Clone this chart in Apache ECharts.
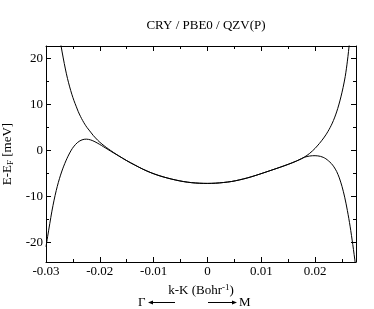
<!DOCTYPE html>
<html><head><meta charset="utf-8">
<script src="https://cdn.jsdelivr.net/npm/echarts@6/dist/echarts.min.js"></script>
<style>html,body{margin:0;padding:0;background:#fff}#c{width:374px;height:309px}</style>
</head><body><div id="c"></div>
<script>
var titleText = 'CRY / PBE0 / QZV(P)';
var xTickLabels = ['-0.03', '-0.02', '-0.01', '0', '0.01', '0.02'];
var yTickLabels = ['-20', '-10', '0', '10', '20'];

// shared central part of both bands (k in Bohr^-1, E in meV)
var midK = [-0.0150, -0.0135, -0.0120, -0.0105, -0.0090, -0.0075, -0.0060, -0.0045, -0.0030, -0.0015, 0.0000, 0.0015, 0.0030, 0.0045, 0.0060, 0.0075, 0.0090, 0.0105, 0.0120, 0.0135, 0.0150, 0.0165];
var midE = [-2.25, -3.2, -4.1, -4.87, -5.5, -6.01, -6.44, -6.79, -7.03, -7.16, -7.2, -7.15, -7.0, -6.78, -6.42, -5.98, -5.45, -4.87, -4.28, -3.68, -3.05, -2.35];

var upperLeftK = [-0.0276, -0.0272, -0.0268, -0.0264, -0.0260, -0.0256, -0.0252, -0.0248, -0.0244, -0.0240, -0.0236, -0.0232, -0.0228, -0.0224, -0.0220, -0.0216, -0.0212, -0.0208, -0.0204, -0.0200, -0.0196, -0.0192, -0.0188, -0.0184, -0.0180, -0.0175, -0.0170, -0.0165];
var upperLeftE = [25.7, 22.7, 20.1, 17.7, 15.6, 13.8, 12.2, 10.8, 9.6, 8.4, 7.4, 6.5, 5.7, 5.0, 4.4, 3.8, 3.2, 2.7, 2.2, 1.76, 1.36, 0.99, 0.64, 0.3, -0.03, -0.43, -0.82, -1.2];
var upperRightK = [0.0175, 0.0180, 0.0185, 0.0190, 0.0195, 0.0200, 0.0204, 0.0208, 0.0212, 0.0216, 0.0220, 0.0224, 0.0228, 0.0232, 0.0236, 0.0240, 0.0244, 0.0248, 0.0252, 0.0256, 0.0260, 0.0264, 0.0268];
var upperRightE = [-1.8, -1.47, -1.1, -0.65, -0.14, 0.43, 0.95, 1.49, 2.07, 2.69, 3.37, 4.13, 4.97, 5.93, 7.05, 8.35, 9.87, 11.63, 13.67, 16.07, 19.4, 23.6, 28.5];

var lowerLeftK = [-0.0300, -0.0297, -0.0293, -0.0289, -0.0285, -0.0281, -0.0277, -0.0273, -0.0269, -0.0265, -0.0261, -0.0257, -0.0253, -0.0249, -0.0245, -0.0241, -0.0237, -0.0233, -0.0229, -0.0225, -0.0221, -0.0217, -0.0213, -0.0209, -0.0205, -0.0201, -0.0197, -0.0193, -0.0189, -0.0185, -0.0180, -0.0175, -0.0170, -0.0165];
var lowerLeftE = [-21.0, -18.8, -15.96, -13.24, -10.84, -8.76, -6.96, -5.4, -4.04, -2.84, -1.76, -0.8, 0.04, 0.74, 1.3, 1.74, 2.06, 2.28, 2.4, 2.43, 2.38, 2.26, 2.08, 1.86, 1.61, 1.34, 1.06, 0.77, 0.48, 0.19, -0.17, -0.52, -0.86, -1.2];
var lowerRightK = [0.0175, 0.0180, 0.0185, 0.0190, 0.0195, 0.0200, 0.0205, 0.0210, 0.0215, 0.0220, 0.0225, 0.0230, 0.0235, 0.0240, 0.0245, 0.0250, 0.0255, 0.0260, 0.0265, 0.0270, 0.0275, 0.0278];
var lowerRightE = [-1.8, -1.52, -1.35, -1.24, -1.18, -1.17, -1.21, -1.32, -1.52, -1.84, -2.3, -2.85, -3.6, -4.6, -6.0, -7.85, -10.2, -13.1, -16.5, -20.5, -24.9, -27.8];

function pairs(a, b) { var r = []; for (var i = 0; i < a.length; i++) r.push([a[i], b[i]]); return r; }
var upperData = pairs(upperLeftK, upperLeftE).concat(pairs(midK, midE), pairs(upperRightK, upperRightE));
var lowerData = pairs(lowerLeftK, lowerLeftE).concat(pairs(midK, midE), pairs(lowerRightK, lowerRightE));

var FONT = 'Liberation Serif';
var X_MIN = -0.03, X_MAX = 0.0276, Y_MIN = -24.3, Y_MAX = 22.7;

function xAx(pos, interval, len, labels, line) {
  return {
    type: 'value', position: pos, min: X_MIN, max: X_MAX, interval: interval,
    axisLine: { show: line, onZero: false, lineStyle: { color: '#000', width: 1 } },
    axisTick: { show: true, inside: true, length: len, lineStyle: { color: '#000', width: 1 } },
    axisLabel: labels ? {
      show: true, margin: 3, color: '#000', fontFamily: FONT, fontSize: 13,
      showMaxLabel: false,
      formatter: function (v) {
        var r = Math.round(v * 100);
        if (Math.abs(v * 100 - r) > 1e-6) return '';
        return xTickLabels[r + 3] || '';
      }
    } : { show: false },
    splitLine: { show: false },
    name: labels ? 'k-K (Bohr{sup|-1})' : '',
    nameLocation: 'middle', nameGap: 20,
    nameTextStyle: { color: '#000', fontFamily: FONT, fontSize: 13,
      rich: { sup: { fontSize: 9, verticalAlign: 'top', padding: [0, 0, 6, 0], color: '#000', fontFamily: FONT } } }
  };
}
function yAx(pos, split, len, labels, line) {
  return {
    type: 'value', position: pos, min: Y_MIN, max: Y_MAX, splitNumber: split,
    axisLine: { show: line, onZero: false, lineStyle: { color: '#000', width: 1 } },
    axisTick: { show: true, inside: true, length: len, lineStyle: { color: '#000', width: 1 } },
    axisLabel: labels ? {
      show: true, margin: 3, color: '#000', fontFamily: FONT, fontSize: 13,
      showMinLabel: false, showMaxLabel: false,
      formatter: function (v) {
        var r = Math.round(v / 10);
        if (Math.abs(v / 10 - r) > 1e-6) return '';
        return yTickLabels[r + 2] || '';
      }
    } : { show: false },
    splitLine: { show: false },
    name: labels ? 'E-E{sub|F} [meV]' : '',
    nameLocation: 'middle', nameGap: 22,
    nameTextStyle: { color: '#000', fontFamily: FONT, fontSize: 13,
      rich: { sub: { fontSize: 9, verticalAlign: 'bottom', padding: [6, 0, 0, 0], color: '#000', fontFamily: FONT } } }
  };
}

var chart = echarts.init(document.getElementById('c'), null, { renderer: 'canvas' });
chart.setOption({
  animation: false,
  backgroundColor: '#fff',
  title: { text: titleText, left: 201, top: 14, textAlign: 'center',
    textStyle: { color: '#000', fontFamily: FONT, fontSize: 13, fontWeight: 'normal' } },
  grid: { left: 46, right: 18, top: 46, bottom: 47, containLabel: false, outerBoundsMode: 'none' },
  xAxis: [
    xAx('bottom', 0.01, 5, true, true),
    xAx('bottom', 0.005, 3, false, false),
    xAx('top', 0.01, 5, false, true),
    xAx('top', 0.005, 3, false, false)
  ],
  yAxis: [
    yAx('left', 5, 5, true, true),
    yAx('left', 10, 3, false, false),
    yAx('right', 5, 5, false, true),
    yAx('right', 10, 3, false, false)
  ],
  series: [
    { type: 'line', name: 'upper', data: upperData, xAxisIndex: 0, yAxisIndex: 0,
      smooth: 0.3, showSymbol: false, symbol: 'none', clip: true,
      lineStyle: { color: '#000', width: 1 } },
    { type: 'line', name: 'lower', data: lowerData, xAxisIndex: 0, yAxisIndex: 0,
      smooth: 0.3, showSymbol: false, symbol: 'none', clip: true,
      lineStyle: { color: '#000', width: 1 } }
  ],
  graphic: [
    { type: 'text', left: 138, top: 296, style: { text: 'Γ', fill: '#000', font: '13px "Liberation Serif"' } },
    { type: 'line', shape: { x1: 150, y1: 302.5, x2: 175, y2: 302.5 }, style: { stroke: '#000', lineWidth: 1 } },
    { type: 'polygon', shape: { points: [[148, 302.5], [153, 300.5], [153, 304.5]] }, style: { fill: '#000' } },
    { type: 'line', shape: { x1: 208, y1: 302.5, x2: 234, y2: 302.5 }, style: { stroke: '#000', lineWidth: 1 } },
    { type: 'polygon', shape: { points: [[237, 302.5], [232, 300.5], [232, 304.5]] }, style: { fill: '#000' } },
    { type: 'text', left: 239, top: 296, style: { text: 'M', fill: '#000', font: '13px "Liberation Serif"' } }
  ]
});
</script></body></html>
